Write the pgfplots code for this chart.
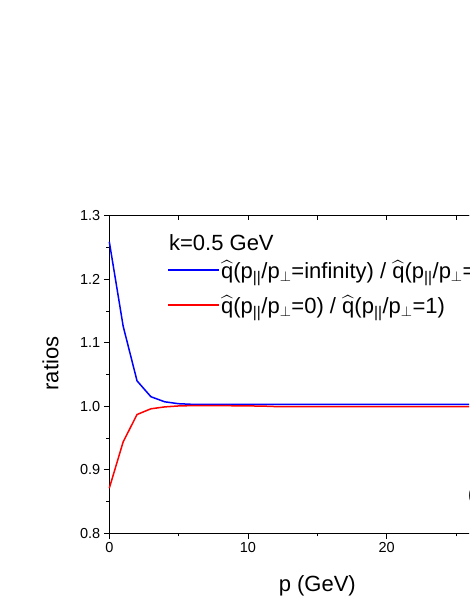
\documentclass[border=0pt]{standalone}
\usepackage{amsmath}
\usepackage{fontspec}
\setmainfont{Liberation Sans}
\usepackage{pgfplots}
\pgfplotsset{compat=1.18}

\newcommand{\tickfont}{\fontsize{14.5}{17}\selectfont}
\newcommand{\labfont}{\fontsize{22}{26}\selectfont}
\newcommand{\qh}{$\widehat{\text{q}}$}
\newcommand{\pp}{p\textsubscript{||}/p\textsubscript{$\perp$}}

\begin{document}
\begin{tikzpicture}
% the original figure is cut off at the right edge
\path[use as bounding box] (0,0) rectangle (469pt,607pt);
\clip (0,0) rectangle (469pt,607pt);

\begin{axis}[at={(109.3pt,73.7pt)}, anchor=south west, scale only axis,
  width=416pt, height=317.6pt,
  xmin=0, xmax=30, ymin=0.8, ymax=1.3,
  xtick={0,10,20,30}, minor x tick num=1,
  ytick={0.8,0.9,1.0,1.1,1.2,1.3}, minor y tick num=1,
  xtick pos=bottom, ytick pos=left, tick align=outside,
  major tick length=5.5pt, minor tick length=3pt,
  axis line style={line width=0.9pt},
  every tick/.style={black, line width=0.9pt},
  /pgf/number format/assume math mode=true,
  xticklabel style={font=\tickfont},
  yticklabel style={font=\tickfont, /pgf/number format/.cd, fixed, fixed zerofill, precision=1},
  xlabel={p (GeV)}, ylabel={ratios},
  xlabel style={font=\labfont, at={(rel axis cs:0.5,-0.1817)}, anchor=base},
  ylabel style={font=\labfont, at={(rel axis cs:-0.1226,0.5346)}, anchor=base},
  clip=false]
  \addplot[blue, line width=1.5pt] coordinates {
    (0,1.259) (1,1.126) (2,1.040) (3,1.015) (4,1.007) (5,1.004) (6,1.003)
    (7,1.003) (8,1.003) (10,1.003) (12,1.003) (15,1.003) (20,1.003) (25,1.003) (30,1.003)};
  \addplot[red, line width=1.5pt] coordinates {
    (0,0.871) (1,0.944) (2,0.987) (3,0.996) (4,0.999) (5,1.0005) (6,1.001)
    (8,1.001) (10,1.0005) (11,1.0003) (12,0.9995) (15,0.9995) (20,0.9995) (25,0.9995) (30,0.9995)};
  % legend sample lines
  \addplot[blue, line width=1.5pt, forget plot] coordinates {(4.254,1.2145) (7.931,1.2145)};
  \addplot[red, line width=1.7pt, forget plot] coordinates {(4.254,1.1590) (7.931,1.1590)};
  \node[font=\labfont, anchor=base west, inner sep=0pt] at (axis cs:4.30,1.2449) {k=0.5 GeV};
  \node[font=\labfont, anchor=base west, inner sep=0pt] at (axis cs:8.05,1.2019)
    {\qh(\pp=infinity) / \qh(\pp=1)};
  \node[font=\labfont, anchor=base west, inner sep=0pt] at (axis cs:8.05,1.1468)
    {\qh(\pp=0) / \qh(\pp=1)};
  \node[font=\labfont, anchor=base west, inner sep=0pt] at (axis cs:25.85,0.8493) {(a)};
\end{axis}

% top axis ticks point inwards
\begin{axis}[at={(109.3pt,73.7pt)}, anchor=south west, scale only axis,
  width=416pt, height=317.6pt,
  xmin=0, xmax=30, ymin=0.8, ymax=1.3,
  axis x line*=top, axis y line=none,
  xtick={0,10,20,30}, minor x tick num=1, xticklabels={},
  tick align=inside, major tick length=4pt, minor tick length=4pt,
  axis line style={line width=0.9pt},
  every tick/.style={black, line width=0.9pt}]
\end{axis}
\end{tikzpicture}
\end{document}
